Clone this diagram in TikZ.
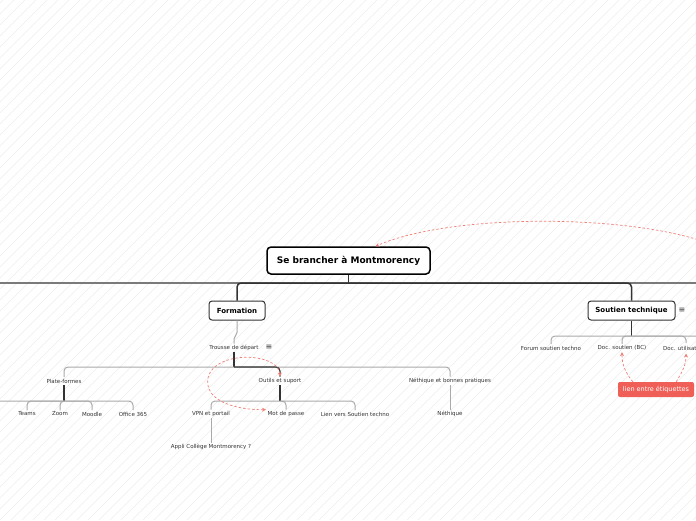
\documentclass[tikz,border=0pt]{standalone}
\usepackage{fontspec}
\setmainfont{DejaVu Sans}
\usetikzlibrary{arrows.meta,calc}
\definecolor{dk}{HTML}{333333}
\definecolor{gr}{HTML}{7A7A7A}
\definecolor{lgr}{HTML}{AAAAAA}
\definecolor{txt}{HTML}{333333}
\definecolor{relc}{HTML}{F08078}
\definecolor{tagc}{HTML}{EF5F57}
\definecolor{hatchc}{HTML}{EFEFEF}
\tikzset{
  rootbox/.style={draw=black,line width=1.5pt,fill=white,rounded corners=4pt,minimum width=163pt,minimum height=27pt,font=\fontsize{9}{10}\selectfont\bfseries,inner sep=0pt},
  mainbox/.style={draw=dk,line width=1pt,fill=white,rounded corners=3pt,minimum height=19pt,font=\fontsize{7}{8}\selectfont\bfseries,inner sep=0pt},
  leaf/.style={font=\fontsize{5.5}{6}\selectfont,text=txt,inner sep=1.5pt},
  icon/.style={font=\fontsize{8}{8}\selectfont,text=txt,inner sep=0pt},
  tagbox/.style={fill=tagc,rounded corners=2pt,minimum width=76pt,minimum height=15pt,font=\fontsize{6.5}{7}\selectfont,text=white,inner sep=0pt},
  dkline/.style={draw=dk,line width=1.5pt,rounded corners=4pt},
  grline/.style={draw=gr,line width=1.5pt,rounded corners=4pt},
  subdk/.style={draw=dk,line width=1.1pt,rounded corners=4pt},
  subgr/.style={draw=lgr,line width=1pt,rounded corners=4pt},
  rel/.style={draw=relc,line width=0.7pt,dash pattern=on 2.5pt off 2pt,-{Stealth[length=4pt,width=4pt]}},
  hatch/.style={draw=hatchc,line width=0.6pt}
}
\begin{document}
\begin{tikzpicture}[x=1pt,y=-1pt]
\useasboundingbox (0,0) rectangle (696,520);
\clip (0,0) rectangle (696,520);
\fill[white] (0,0) rectangle (696,520);
\foreach \c in {-528,-517,...,700} \draw[hatch] (\c,520) -- ({\c+520},0);

% nodes
\node[rootbox] (root) at (348.5,260.5) {Se brancher à Montmorency};
\node[mainbox,minimum width=56pt] (form) at (237,310.5) {Formation};
\node[mainbox,minimum width=87pt] (sout) at (631.5,310.5) {Soutien technique};
\node[icon] (soutic) at (682,310.5) {≡};
\node[leaf] (trousse) at (234,348) {Trousse de départ};
\node[icon] (trousseic) at (269,347.5) {≡};
\node[leaf] (plate) at (64,381) {Plate-formes};
\node[leaf] (outils) at (280,381) {Outils et suport};
\node[leaf] (neth1) at (450,381) {Néthique et bonnes pratiques};
\node[leaf] (teams) at (27,414) {Teams};
\node[leaf] (zoom) at (60,414) {Zoom};
\node[leaf] (moodle) at (92,414) {Moodle};
\node[leaf] (office) at (133,414) {Office 365};
\node[leaf] (vpn) at (211,414) {VPN et portail};
\node[leaf] (mdp) at (286,414) {Mot de passe};
\node[leaf] (lien) at (355,414) {Lien vers Soutien techno};
\node[leaf] (neth2) at (450,414) {Néthique};
\node[leaf] (appli) at (211,447) {Appli Collège Montmorency ?};
\node[leaf] (forum) at (551,348) {Forum soutien techno};
\node[leaf] (docbc) at (622,348) {Doc. soutien (BC)};
\node[leaf,anchor=west] (docu) at (661.5,348) {Doc. utilisateur};
\node[tagbox] (tag) at (656,389.5) {lien entre étiquettes};

\coordinate (Lend) at (-10,283);
\coordinate (Rend) at (706,283);
\coordinate (cutL) at (-6,410);
\coordinate (Rcut) at (706,336);
\coordinate (docuT) at (686,343);
\coordinate (docuA) at (686,353.5);
\coordinate (Rarc) at (702,241);

% root level
\draw[grline] (Lend) -- (Rend);
\draw[dkline] (form.north) |- (sout.north |- Lend) -- (sout.north);
\draw[dkline] (root.south) -- (root.south |- Lend);

% formation
\draw[subgr,rounded corners=2pt] (form.south) -- ++(0,14) -- (trousse.north |- 0,337) -- (trousse.north);
\draw[subdk] (trousse.south) -- (trousse.south |- 0,367);
\draw[subgr] (plate.north) |- (neth1.north |- 0,367) -- (neth1.north);
\draw[subdk] (trousse.south |- 0,367) -| (outils.north);

\draw[subdk] (plate.south) -- (plate.south |- 0,401);
\draw[subgr] (cutL) |- (office.north |- 0,401) -- (office.north);
\draw[subgr] (teams.north) |- (plate.south |- 0,401);
\draw[subgr] (zoom.north) |- (plate.south |- 0,401);
\draw[subgr] (moodle.north) |- (plate.south |- 0,401);

\draw[subdk] (outils.south) -- (outils.south |- 0,401);
\draw[subgr] (vpn.north) |- (lien.north |- 0,401) -- (lien.north);
\draw[subgr] (mdp.north) |- (outils.south |- 0,401);

\draw[subgr] (neth1.south) -- (neth2.north);
\draw[subgr] (vpn.south) -- (appli.north);

% soutien
\draw[subdk] (sout.south) -- (sout.south |- 0,336);
\draw[subgr] (forum.north) |- (Rcut);
\draw[subgr] (docbc.north) |- (sout.south |- 0,336);
\draw[subgr] (docuT) |- (sout.south |- 0,336);

% relations
\draw[rel] (Rarc) .. controls (620,214) and (450,214) .. ([xshift=27pt]root.north);
\draw[rel,{Stealth[length=4pt,width=4pt]}-{Stealth[length=4pt,width=4pt]}] (outils.north) .. controls (279,352) and (214,350) .. (208,378) .. controls (204,402) and (238,410) .. (mdp.north west);
\draw[rel] ([xshift=15pt]tag.north west) .. controls +(-8,-10) and +(0,12) .. (docbc.south);
\draw[rel] ([xshift=-18pt]tag.north east) .. controls +(6,-10) and +(0,12) .. (docuA);
\end{tikzpicture}
\end{document}
